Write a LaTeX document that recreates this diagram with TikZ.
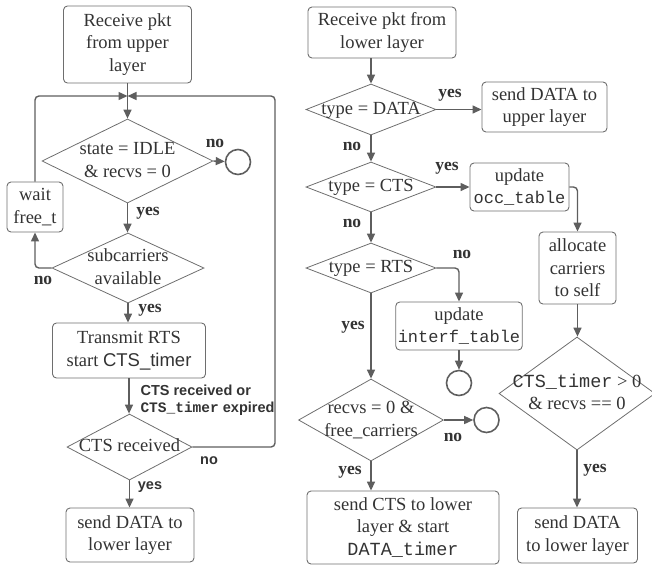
\documentclass[tikz,border=0pt]{standalone}
\usepackage{fontspec}
\setmainfont{Liberation Serif}
\setsansfont{Liberation Sans}
\setmonofont{Liberation Mono}
\usetikzlibrary{shapes.geometric,arrows.meta}
\definecolor{edge}{HTML}{5E5E5E}
\definecolor{rim}{HTML}{6E6E6E}
\definecolor{ink}{HTML}{333333}
% diamond text that does not size the diamond
\newcommand{\dtxt}[1]{\raisebox{-0.25em}[0pt][0pt]{\makebox[0pt]{\begin{tabular}{@{}c@{}}#1\end{tabular}}}}

\begin{document}
\begin{tikzpicture}[x=1pt, y=-1pt,
  box/.style={draw=rim, line width=0.9pt, rounded corners=4pt, align=center, text=ink, inner sep=2pt, font=\fontsize{18.5}{22.5}\selectfont},
  dec/.style={diamond, draw=rim, line width=0.8pt, inner sep=0pt, text=ink, font=\fontsize{18.5}{22.5}\selectfont},
  endpt/.style={circle, draw=edge, line width=1.6pt, minimum size=25pt, inner sep=0pt},
  arr/.style={-{Triangle[length=9pt,width=8pt]}, draw=edge, line width=1.4pt},
  lbl/.style={text=ink, font=\fontsize{17.5}{20}\selectfont\bfseries},
  slbl/.style={text=ink, font=\fontsize{14.5}{17}\selectfont\sffamily\bfseries}]
\useasboundingbox (0,0) rectangle (652,566);

% sender side
\node[box, minimum width=128pt, minimum height=77pt] (up) at (127.5,44.5) {Receive pkt\\from upper\\layer};
\node[dec, minimum width=171pt, minimum height=84pt] (idle) at (127.5,161) {\dtxt{state = IDLE\\\& recvs = 0}};
\node[endpt] (c1) at (238,162) {};
\node[box, minimum width=56pt, minimum height=50pt] (wait) at (35,207) {wait\\free\_t};
\node[dec, minimum width=152pt, minimum height=70pt] (sub) at (128,268) {\dtxt{subcarriers\\available}};
\node[box, minimum width=153pt, minimum height=55pt] (rts) at (129,350.5) {Transmit RTS\\start {\sffamily CTS\_timer}};
\node[dec, minimum width=125pt, minimum height=66pt] (cts) at (129.5,447) {\dtxt{CTS received}};
\node[box, minimum width=128pt, minimum height=54pt] (dl) at (130,535) {send DATA to\\lower layer};
\coordinate (jn) at (127.5,96);
\coordinate (rbend) at (275,447);

\draw[arr] (up) -- (idle);
\draw[arr, rounded corners=4pt] (wait.north) |- (jn);
\draw[arr, rounded corners=4pt] (cts.east) -- (rbend) |- (jn);
\draw[arr] (idle.east) -- (c1);
\draw[arr] (idle.south) -- (idle.south |- sub.north);
\draw[arr, rounded corners=4pt] (sub.west) -| (wait.south);
\draw[arr] (sub.south) -- (sub.south |- rts.north);
\draw[arr] (rts.south) -- (rts.south |- cts.north);
\draw[arr] (cts.south) -- (cts.south |- dl.north);

\node[lbl] (n1) at (215,143) {no};
\node[lbl] (y1) at (148,213) {yes};
\node[lbl] (n2) at (43,280) {no};
\node[lbl] (y2) at (150,310) {yes};
\node[slbl, align=left, anchor=west] (ev) at (137,400) {CTS received or\\{\ttfamily CTS\_timer} expired};
\node[slbl] (n3) at (209,461) {no};
\node[slbl] (y3) at (150,487) {yes};

% receiver side
\node[box, minimum width=148pt, minimum height=51pt] (low) at (382,32.5) {Receive pkt from\\lower layer};
\node[dec, minimum width=130pt, minimum height=51pt] (dat) at (371,109.5) {\dtxt{type = DATA}};
\node[box, minimum width=125pt, minimum height=50pt] (ud) at (544.5,107) {send DATA to\\upper layer};
\node[dec, minimum width=130pt, minimum height=50pt] (ctsr) at (371,187) {\dtxt{type = CTS}};
\node[box, minimum width=99pt, minimum height=48pt] (occ) at (519.5,187) {update\\{\fontsize{17}{22.5}\selectfont\ttfamily occ\_table}};
\node[box, minimum width=77pt, minimum height=72pt] (alloc) at (577.5,268) {allocate\\carriers\\to self};
\node[dec, minimum width=130pt, minimum height=50pt] (rtsr) at (371,268) {\dtxt{type = RTS}};
\node[box, minimum width=126pt, minimum height=48pt] (itf) at (459,326) {update\\{\fontsize{17}{22.5}\selectfont\ttfamily interf\_table}};
\node[endpt] (c2) at (459,383) {};
\node[dec, minimum width=145pt, minimum height=82pt] (rec) at (371,420) {\dtxt{recvs = 0 \&\\free\_carriers}};
\node[endpt] (c3) at (486.5,420) {};
\node[box, minimum width=192pt, minimum height=73pt] (sc) at (403,527.5) {send CTS to lower\\layer \& start\\{\ttfamily DATA\_timer}};
\node[dec, minimum width=156pt, minimum height=113pt] (tmr) at (577,393.5) {\dtxt{{\ttfamily CTS\_timer} > 0\\\& recvs == 0}};
\node[box, minimum width=120pt, minimum height=55pt] (dr) at (577.5,535.5) {send DATA\\to lower layer};

\draw[arr] (dat.north |- low.south) -- (dat.north);
\draw[arr] (dat.east) -- (dat.east -| ud.west);
\draw[arr] (dat.south) -- (ctsr.north);
\draw[arr] (ctsr.east) -- (occ.west);
\draw[arr, rounded corners=4pt] (occ.east) -| (alloc.north);
\draw[arr] (alloc.south) -- (alloc.south |- tmr.north);
\draw[arr] (tmr.south) -- (tmr.south |- dr.north);
\draw[arr] (ctsr.south) -- (rtsr.north);
\draw[arr, rounded corners=4pt] (rtsr.east) -| (itf.north);
\draw[arr] (itf.south) -- (c2);
\draw[arr] (rtsr.south) -- (rec.north);
\draw[arr] (rec.east) -- (c3);
\draw[arr] (rec.south) -- (rec.south |- sc.north);

\node[lbl] (y4) at (450,95) {yes};
\node[lbl] (n4) at (352,146) {no};
\node[lbl] (y5) at (447,168) {yes};
\node[lbl] (n5) at (352,223) {no};
\node[lbl] (n6) at (462,254) {no};
\node[lbl] (y6) at (353,327) {yes};
\node[lbl] (n7) at (453,437) {no};
\node[lbl] (y7) at (350,472) {yes};
\node[lbl] (y8) at (595,470) {yes};
\end{tikzpicture}
\end{document}
